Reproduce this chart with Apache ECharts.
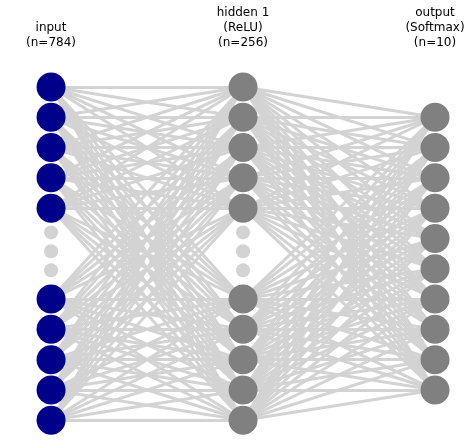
<!DOCTYPE html>
<html><head><meta charset="utf-8">
<script src="https://cdn.jsdelivr.net/npm/echarts@6/dist/echarts.min.js"></script>
<style>html,body{margin:0;padding:0;background:#fff}#c{width:474px;height:446px}</style>
</head><body><div id="c"></div>
<script>
const layerNames = ['input\n(n=784)', 'hidden 1\n(ReLU)\n(n=256)', 'output\n(Softmax)\n(n=10)'];
const layerColors = ['#00008b', '#808080', '#808080'];
const inputRows = [0,1,2,3,4,7,8,9,10,11];
const hiddenRows = [0,1,2,3,4,7,8,9,10,11];
const outputRows = [1,2,3,4,5,6,7,8,9,10];
const ellipsisRows = [4.8,5.42,6.05];
const layers = [inputRows, hiddenRows, outputRows];

const edges = [];
for (let l = 0; l < 2; l++)
  for (const a of layers[l]) for (const b of layers[l+1])
    edges.push({coords: [[l, a], [l+1, b]]});

const series = [{
  type: 'lines', coordinateSystem: 'cartesian2d', data: edges, silent: true,
  lineStyle: {color: '#d3d3d3', width: 3, opacity: 1}, z: 1
}];
layers.forEach((rows, l) => series.push({
  type: 'scatter', data: rows.map(r => [l, r]), symbolSize: 29,
  itemStyle: {color: layerColors[l], opacity: 1}, z: 3, silent: true
}));
[0, 1].forEach(l => series.push({
  type: 'scatter', data: ellipsisRows.map(r => [l, r]), symbolSize: 14,
  itemStyle: {color: '#d3d3d3', opacity: 1}, z: 3, silent: true
}));

const xs = [51, 243, 435];
const chart = echarts.init(document.getElementById('c'));
chart.setOption({
  animation: false,
  grid: {left: 0, right: 0, top: 0, bottom: 0},
  xAxis: {type: 'value', min: -0.266, max: 2.203, show: false},
  yAxis: {type: 'value', min: -2.87, max: 11.85, inverse: true, show: false},
  graphic: layerNames.map((t, i) => {
    const n = t.split('\n').length;
    return {type: 'text', x: xs[i], y: 50 - n * 15,
      style: {text: t, fill: '#000', font: '12px "DejaVu Sans"', align: 'center', lineHeight: 15}};
  }),
  series
});
</script></body></html>
